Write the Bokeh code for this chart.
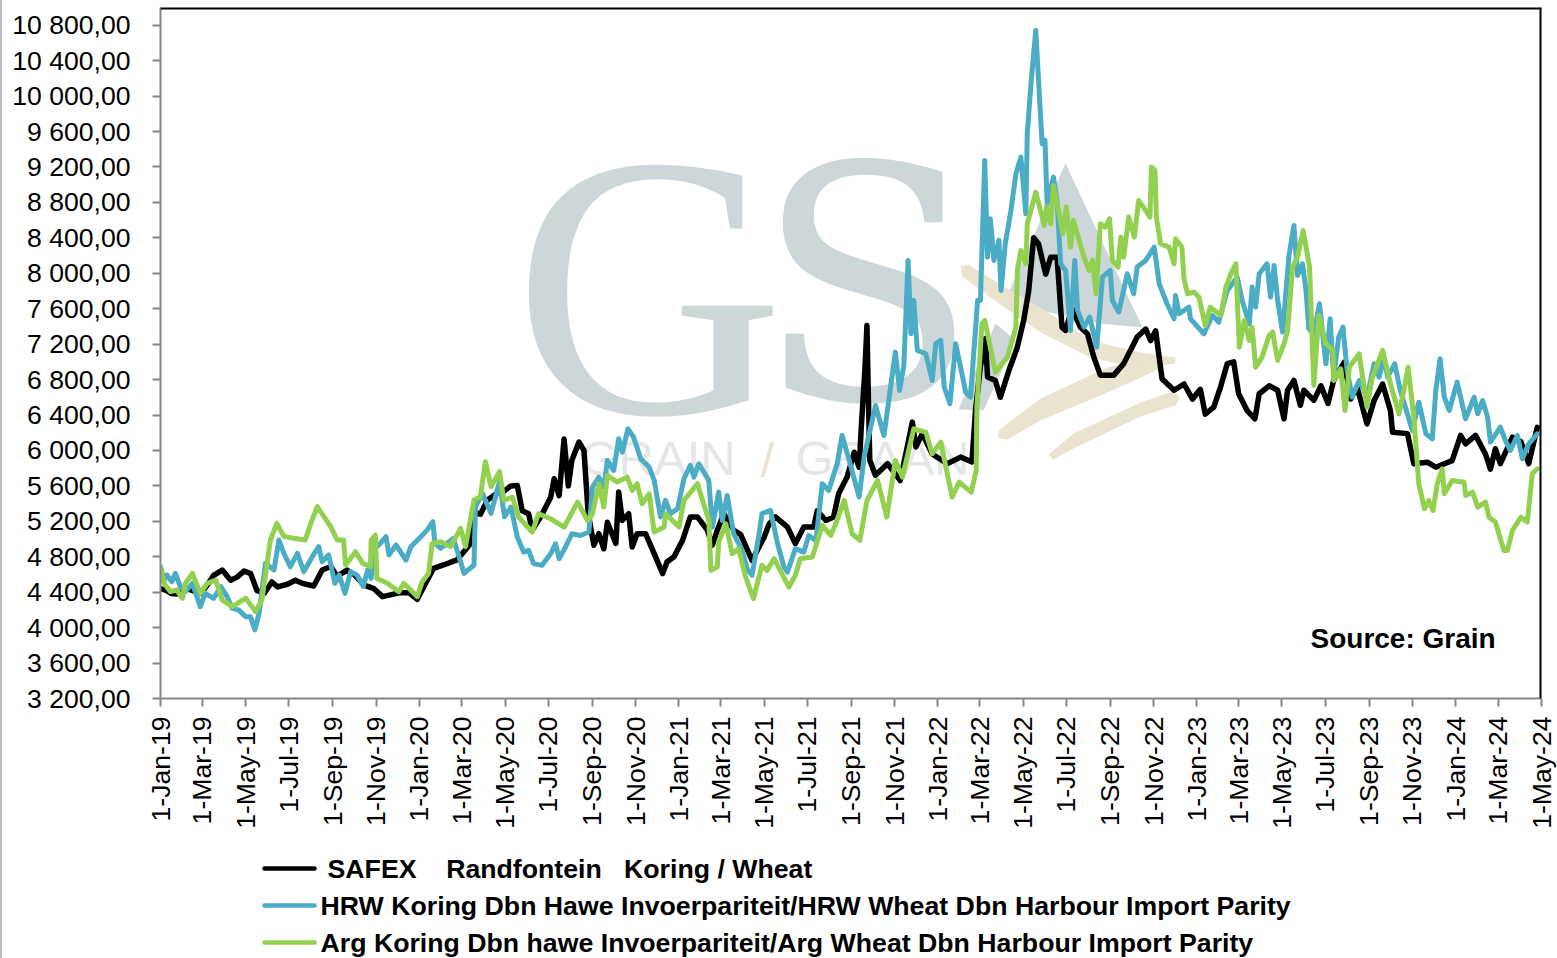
import math
from datetime import datetime
from bokeh.plotting import figure
from bokeh.layouts import column
from bokeh.models import Range1d, FixedTicker, Span
from bokeh.core.properties import value
from bokeh.embed import file_html
from bokeh.resources import INLINE

TICK_LABELS = ["1-Jan-19","1-Mar-19","1-May-19","1-Jul-19","1-Sep-19","1-Nov-19","1-Jan-20","1-Mar-20","1-May-20","1-Jul-20","1-Sep-20","1-Nov-20",
 "1-Jan-21","1-Mar-21","1-May-21","1-Jul-21","1-Sep-21","1-Nov-21","1-Jan-22","1-Mar-22","1-May-22","1-Jul-22","1-Sep-22","1-Nov-22",
 "1-Jan-23","1-Mar-23","1-May-23","1-Jul-23","1-Sep-23","1-Nov-23","1-Jan-24","1-Mar-24","1-May-24"]
Y_TICKS = list(range(3200, 11200, 400))

# days since 1-Jan-19 and price
SAFEX_DAYS = [0,8,15,23,38,56,66,75,87,99,108,118,127,136,146,157,165,179,190,200,216,228,240,249,263,273,287,301,313,324,338,350,362,376,385,400,418,430,437,442,451,461,475,484,
 494,503,510,519,524,536,550,555,562,569,575,580,590,597,603,611,618,625,630,642,646,651,660,665,672,684,696,708,714,724,736,747,757,771,778,785,794,808,818,834,851,858,867,884,895,907,921,926,938,949,956,968,978,985,988,993,996,998,1000,1008,1025,1043,1060,1065,1074,1088,1109,1128,1144,
 1149,1156,1163,1166,1177,1184,1196,1208,1217,1224,1231,1238,1248,1255,1264,1271,1276,1285,1297,1307,1316,1325,1344,1358,1377,1389,1396,1403,1412,1429,1443,1455,1466,
 1473,1485,1495,1504,1513,1520,1532,1543,1549,1563,1575,1584,1589,1598,1607,1612,1626,1636,1646,1654,1669,1678,1687,1701,1711,1723,1734,1737,1758,1767,1786,1798,1821,1833,1840,1854,1868,1875,1882,1889,1906,1918,1929,1941]
SAFEX = [4440,4420,4385,4380,4440,4385,4480,4590,4650,4535,4570,4640,4610,4420,4385,4515,4460,4490,4535,4500,4470,4650,4690,4580,4650,4600,4480,4440,4350,4370,4395,4395,4320,4535,4670,4710,4765,4880,4950,5300,5280,5440,5520,5540,
 5600,5605,5320,5285,5100,5250,5470,5680,5490,6130,5600,5890,6095,6000,5285,4930,5060,4890,5190,4950,5530,5210,5285,4910,5060,5060,4835,4610,4740,4800,4985,5250,5250,5100,4930,5100,5285,5100,5050,4760,5020,5170,5250,5135,4950,5135,5135,5320,5210,5250,5510,5700,5980,5810,6260,6900,7410,6600,5890,5720,5850,5660,6320,6040,6190,5960,5850,5925,5870,
 6450,6950,7260,6830,6790,6600,6900,7165,7470,7800,8400,8330,7990,8180,8180,7390,7355,7600,7390,7315,7050,6850,6850,6980,7280,7370,7240,7350,6810,6680,6750,6580,6690,
 6410,6490,6730,6980,7000,6640,6450,6357,6640,6730,6680,6357,6680,6790,6510,6680,6565,6730,6530,6790,6997,6580,6715,6300,6565,6750,6450,6206,6190,5850,5867,5811,5885,6170,6075,6170,5960,5790,6020,5850,6150,6100,5850,6260]

HRW_DAYS = [0,5,9,16,21,28,35,45,56,63,75,85,94,101,110,120,127,133,139,148,160,167,174,183,193,202,214,223,228,237,246,252,260,268,277,286,292,297,301,308,318,322,332,346,353,367,376,384,387,395,413,428,442,444,454,466,478,
 485,494,503,512,519,526,538,550,557,562,571,580,592,604,609,618,625,630,639,646,651,659,667,677,689,696,705,712,719,729,738,747,752,759,773,778,787,792,799,808,820,827,834,844,848,860,870,879,884,895,907,914,924,933,942,954,961,971,985,992,1008,1020,1036,1042,1048,1054,1058,1062,1067,1079,1088,1093,1100,1105,1113,1121,1130,1135,1142,1152,1156,1162,
 1166,1170,1175,1182,1185,1191,1199,1206,1213,1220,1222,1228,1234,1240,1243,1247,1250,1259,1264,1269,1276,1283,1289,1293,1302,1310,1320,1328,1339,1342,1351,1363,1372,1377,1389,1401,1408,1419,1429,1431,1436,1450,
 1452,1471,1483,1492,1504,1518,1525,1535,1539,1544,1549,1560,1565,1570,1575,1582,1591,1598,1603,1610,1615,1619,1626,1634,1643,1649,1654,1661,1667,1673,1680,1690,1701,1711,1718,1725,1730,1740,1748,1765,1774,1784,1793,1798,1804,1810,1817,1828,1840,1852,1857,1864,1871,1875,1889,1896,1903,1913,1920,1929,1941]
HRW = [4688,4538,4594,4519,4613,4463,4406,4500,4237,4387,4331,4463,4350,4218,4200,4124,4124,3974,4162,4726,4651,4989,4839,4688,4839,4632,4801,4914,4745,4820,4500,4594,4387,4632,4594,4463,4651,4557,4900,4933,5027,4820,4933,4763,4914,5027,5102,5196,4950,4895,5008,4613,4707,5365,5515,5290,5647,
 5252,5361,5022,4853,4872,4722,4703,4834,4947,4778,4910,5060,5040,5079,5586,5699,5586,5887,5774,6132,5981,6244,6150,5906,5812,5662,5248,5436,5286,5342,5680,5831,5699,5850,5662,5135,5530,5210,5492,5060,4872,4665,4590,5060,5286,5323,4947,4684,4628,4891,4853,5041,4980,5624,5549,5850,6169,5887,5474,5925,6508,6169,7110,6678,6960,8145,7317,7694,7129,7092,6790,7205,7242,6715,6527,7205,6866,6660,6602,7694,7694,9274,
 8182,8615,8145,8371,7806,8333,8709,9123,9311,8672,9575,10215,10741,9876,9462,9500,8785,9086,8822,8107,8032,7355,8145,7580,7392,7505,7167,7957,8032,7693,7562,7994,7768,8070,8145,8295,7881,7656,7486,7750,7543,7618,
 7486,7317,7524,7449,7806,7956,7693,7430,7844,7618,7994,8107,7731,8088,7693,7336,8201,8540,7975,8107,7806,7373,7317,7656,6978,7486,6828,7279,7392,6903,6602,6790,6602,6978,6828,7053,6828,6978,6677,6225,6545,6188,6131,6677,7034,6602,6451,6771,6357,6602,6414,6564,6376,6094,6263,6113,6000,6169,5906,6075,6188]

ARG_DAYS = [0,5,14,23,31,35,45,56,66,78,87,101,120,134,143,155,164,174,188,204,212,221,240,249,258,261,275,285,296,297,303,305,320,336,343,362,369,378,383,395,409,423,430,442,451,458,466,478,
 484,496,505,524,533,550,569,588,602,609,618,625,630,644,658,665,672,679,689,696,710,712,731,738,757,773,776,785,787,797,806,815,825,836,848,855,865,886,895,902,919,933,945,952,964,975,986,996,1011,1024,1036,1046,1062,1079,1088,1100,1116,1126,1143,1150,1151,1158,
 1162,1168,1177,1194,1206,1208,1213,1220,1222,1234,1246,1249,1255,1259,1267,1272,1277,1283,1287,1302,1309,1314,1319,1325,1332,1338,1342,1350,1354,1358,1365,1373,1379,1389,1395,1397,1402,1404,1410,1422,1429,1431,1440,
 1443,1448,1457,1464,1473,1480,1495,1502,1509,1516,1521,1528,1535,1539,1544,1553,1563,1568,1575,1584,1589,1596,1603,1611,1620,1626,1633,1643,1653,1654,1664,1670,1676,1690,1701,1708,1723,1734,1746,1751,1759,1767,1774,1782,1788,1794,1800,1807,1810,1821,1838,1840,1850,1857,1868,1873,1882,1894,1899,1906,1918,1927,1934,1941]
ARG = [4669,4500,4406,4425,4331,4500,4613,4387,4500,4538,4312,4237,4331,4181,4312,4989,5177,5027,5008,4989,5177,5365,5140,4989,4989,4707,4857,4726,4690,4989,5045,4557,4500,4406,4500,4350,4519,4613,4951,4970,4914,5121,4914,5440,5478,5873,5591,5760,
 5436,5474,5248,5079,5286,5229,5135,5417,5210,5286,5624,5361,5718,5643,5699,5549,5624,5398,5511,5079,5135,5286,5135,5436,5624,5210,4646,4684,4966,5173,4834,4891,4571,4327,4703,4646,4778,4458,4590,4778,4797,5154,5041,5173,5436,5060,4985,5436,5661,5248,5887,5699,6244,6207,5962,6094,5474,5643,5530,5774,6489,7429,
 7467,7242,6884,7053,7392,8032,8258,8107,8559,8916,8540,8747,8559,8992,8672,8446,8747,8295,8596,8182,8032,8145,7769,8559,8521,8615,8145,8070,8408,8182,8634,8408,8822,8709,8634,9199,9161,8634,8333,8295,8107,8389,8295,
 7938,7768,7787,7731,7411,7618,7524,7844,7994,8107,7166,7467,7241,7392,6940,7053,7298,7336,7016,7204,7354,8069,8182,8483,8069,6734,7524,7204,7129,6790,6922,6451,6940,7091,6489,6809,7129,6752,6414,6602,6940,6376,5623,5341,5435,5322,5623,5793,5511,5661,5642,5492,5529,5360,5417,5247,5191,4871,4871,5097,5247,5191,5736,5793]

SERIES_NAMES = ["SAFEX\u00a0\u00a0\u00a0\u00a0Randfontein\u00a0\u00a0\u00a0Koring / Wheat",
                "HRW Koring Dbn Hawe Invoerpariteit/HRW Wheat Dbn Harbour Import Parity",
                "Arg Koring Dbn hawe Invoerpariteit/Arg Wheat Dbn Harbour Import Parity"]
COLORS = ["#000000", "#4bacc6", "#92d14f"]

X_END = (datetime(2024, 5, 1) - datetime(2019, 1, 1)).days
L, R, T, B = 160, 1541, 7, 698
W, H, H1 = 1557, 958, 845
EDGE = "linear-gradient(to right, #bdbdbd 2px, #ffffff 2px)"

def fx(px): return (px - L) / (R - L) * X_END
def fy(py): return 3200 + (B - py) / (B - T) * (11000 - 3200)
def poly(f, pts, colour):
    f.patch([fx(a) for a, _ in pts], [fy(b) for _, b in pts], color=colour, line_color=None)

tick_pos = [(datetime.strptime(s, "%d-%b-%y") - datetime(2019, 1, 1)).days for s in TICK_LABELS]

p = figure(width=W, height=H1, output_backend="svg", toolbar_location=None,
           x_range=Range1d(0, X_END), y_range=Range1d(3200, 11000),
           min_border_left=L, min_border_right=W - R, min_border_top=T, min_border_bottom=H1 - B,
           outline_line_color=None, background_fill_color="white", border_fill_color=None,
           styles={"background": EDGE})
p.grid.visible = False

for ax in (p.xaxis[0], p.yaxis[0]):
    ax.axis_line_color = "#868686"; ax.axis_line_width = 2
    ax.major_tick_line_color = "#868686"; ax.major_tick_line_width = 2
    ax.major_tick_out = 8; ax.major_tick_in = 0
    ax.minor_tick_line_color = None
    ax.major_label_text_font = "Liberation Sans"
    ax.major_label_text_font_size = "26.6px"
    ax.major_label_text_color = "#000000"

p.xaxis[0].ticker = FixedTicker(ticks=tick_pos)
p.xaxis[0].major_label_overrides = dict(zip(tick_pos, TICK_LABELS))
p.xaxis[0].major_label_orientation = math.pi / 2
p.xaxis[0].major_label_standoff = 10
p.yaxis[0].ticker = FixedTicker(ticks=Y_TICKS)
p.yaxis[0].major_label_overrides = {v: f"{v:,}".replace(",", " ") + ",00" for v in Y_TICKS}
p.yaxis[0].major_label_standoff = 22

p.add_layout(Span(location=11000, dimension="width", line_color="black", line_width=4))
p.add_layout(Span(location=X_END, dimension="height", line_color="black", line_width=4))

# watermark logo
GREY, TAN, GT = "#cdd6d8", "#eae3d0", "#e4e6e7"
p.text([fx(513)], [fy(286)], text=["G"], text_font=value("Liberation Serif"), text_font_size="375px",
       text_color=GREY, text_baseline="middle", text_align="left")
p.text([fx(755)], [fy(286)], text=["S"], text_font=value("DejaVu Serif"), text_font_size="325px",
       text_color=GREY, text_baseline="middle", text_align="left")
poly(p, [(1065, 163), (1142, 327), (1100, 323), (1040, 310), (1008, 293)], GREY)
poly(p, [(995, 323), (1015, 340), (983, 410), (958, 409)], GREY)
poly(p, [(960, 266), (968, 264), (990, 278), (1040, 307), (1090, 340), (1140, 352), (1175, 357), (1175, 363), (1140, 368), (1090, 357), (1040, 332), (990, 297), (962, 276)], TAN)
poly(p, [(998, 430), (1007, 423), (1040, 398), (1107, 367), (1160, 356), (1160, 368), (1107, 392), (1040, 420), (1007, 439), (998, 438)], TAN)
poly(p, [(1048, 454), (1073, 433), (1140, 402), (1175, 390), (1179, 398), (1175, 405), (1140, 416), (1073, 448), (1053, 459)], TAN)
p.text([fx(580)], [fy(457)], text=["GRAIN"], text_font=value("Liberation Sans"), text_font_size="49px", text_color=GT, text_baseline="middle")
p.text([fx(760)], [fy(459)], text=["/"], text_font=value("Liberation Sans"), text_font_size="49px", text_color=TAN, text_baseline="middle")
p.text([fx(795)], [fy(457)], text=["GRAAN"], text_font=value("Liberation Sans"), text_font_size="49px", text_color=GT, text_baseline="middle")

p.line(SAFEX_DAYS, SAFEX, line_color=COLORS[0], line_width=5.5, line_join="round", line_cap="round")
p.line(HRW_DAYS, HRW, line_color=COLORS[1], line_width=5, line_join="round", line_cap="round")
p.line(ARG_DAYS, ARG, line_color=COLORS[2], line_width=5, line_join="round", line_cap="round")

p.text([fx(1310)], [fy(638)], text=["Source: Grain"], text_font=value("Liberation Sans"), text_font_style="bold",
       text_font_size="28px", text_color="#000000", text_baseline="middle")

# legend strip, in page pixels (its frame lines up with the chart's frame)
q = figure(width=W, height=H - H1, output_backend="svg", toolbar_location=None,
           x_range=Range1d(L, R), y_range=Range1d(H, H1), min_border=0,
           min_border_left=L, min_border_right=W - R,
           outline_line_color=None, background_fill_color=None, border_fill_color=None,
           styles={"background": EDGE})
q.grid.visible = False
q.axis.visible = False
for name, col, yy, tx in zip(SERIES_NAMES, COLORS, (868, 905, 942), (327, 320, 320)):
    q.line([264, 314], [yy, yy], line_color=col, line_width=4.5, line_cap="round")
    q.text([tx], [yy], text=[name], text_font=value("Liberation Sans"), text_font_style="bold",
           text_font_size="26.7px", text_color="#000000", text_baseline="middle")

page = column(p, q, spacing=0, styles={"position": "fixed", "left": "0px", "top": "0px"})
open("out.html", "w").write(file_html(page, INLINE))
